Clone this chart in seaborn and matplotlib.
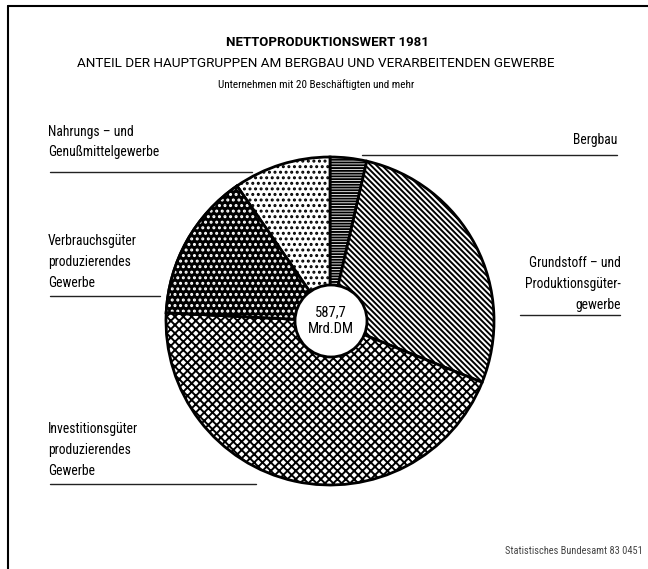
import matplotlib.pyplot as plt
import seaborn as sns
from matplotlib.patches import Wedge, Circle

# Nettoproduktionswert 1981, Anteile in % (aus dem Bild geschaetzt)
segments = ["Bergbau",
            "Grundstoff- und Produktionsgütergewerbe",
            "Investitionsgüter produzierendes Gewerbe",
            "Verbrauchsgüter produzierendes Gewerbe",
            "Nahrungs- und Genußmittelgewerbe"]
shares = [3.6, 27.5, 44.7, 14.6, 9.6]
hatches = ['-' * 6, '\\' * 6, 'x' * 4, '', '...']
faces = ['white', 'white', 'white', 'black', 'white']

title = "NETTOPRODUKTIONSWERT 1981"
subtitle = "ANTEIL DER HAUPTGRUPPEN AM BERGBAU UND VERARBEITENDEN GEWERBE"
note = "Unternehmen mit 20 Beschäftigten und mehr"
total_label = "587,7\nMrd.DM"
source = "Statistisches Bundesamt 83 0451"

sns.set_style("white")
plt.rcParams['font.family'] = ['Roboto Condensed', 'DejaVu Sans']
plt.rcParams['text.color'] = 'black'
plt.rcParams['hatch.linewidth'] = 1.4

W, H = 648, 569
fig = plt.figure(figsize=(6.48, 5.69), dpi=100)
ax = fig.add_axes([0, 0, 1, 1])

def Y(y):
    # pixel row -> data y
    return H - y

cx, cy, r = 330, Y(321), 164
wedges, _ = ax.pie(shares, startangle=90, counterclock=False,
                   center=(cx, cy), radius=r, colors=faces, hatch=hatches,
                   wedgeprops=dict(edgecolor='black', linewidth=2.0))

# white dots on the black wedge (Verbrauchsgueter)
w = wedges[3]
ax.add_patch(Wedge(w.center, w.r, w.theta1, w.theta2, facecolor='none',
                   edgecolor='white', hatch='...', linewidth=0, zorder=3))
ax.add_patch(Wedge(w.center, w.r, w.theta1, w.theta2, facecolor='none',
                   edgecolor='black', linewidth=2.0, zorder=4))

# centre disc
ax.add_patch(Circle((331, Y(321)), 36, facecolor='white', edgecolor='black',
                    linewidth=2.0, zorder=5))
ax.text(331, Y(321), total_label, ha='center', va='center', fontsize=10.5,
        linespacing=1.25, zorder=6)

# titles
ax.text(327, Y(42), title, ha='center', va='center', fontsize=9.5,
        fontweight='bold', family=['Roboto', 'DejaVu Sans'])
ax.text(316, Y(63), subtitle, ha='center', va='center', fontsize=9.7,
        family=['Roboto', 'DejaVu Sans'])
ax.text(316, Y(85), note, ha='center', va='center', fontsize=8.0)

lab = dict(fontsize=9.8, va='center', linespacing=1.6, color='black')
ln = dict(color='#222222', linewidth=1.0)

ax.text(48, Y(142), "Nahrungs – und\nGenußmittelgewerbe", ha='left', **lab)
ax.plot([50, 252], [Y(172), Y(172)], **ln)

ax.text(617, Y(140), "Bergbau", ha='right', **lab)
ax.plot([362, 617], [Y(155), Y(155)], **ln)

ax.text(48, Y(262), "Verbrauchsgüter\nproduzierendes\nGewerbe", ha='left', **lab)
ax.plot([50, 160], [Y(296), Y(296)], **ln)

ax.text(621, Y(284), "Grundstoff – und\nProduktionsgüter-\ngewerbe", ha='right',
        multialignment='right', **lab)
ax.plot([520, 620], [Y(315), Y(315)], **ln)

ax.text(48, Y(450), "Investitionsgüter\nproduzierendes\nGewerbe", ha='left', **lab)
ax.plot([50, 256], [Y(484), Y(484)], **ln)

ax.text(643, Y(551), source, ha='right', va='center', fontsize=7.5,
        color='#444444')

# frame of the original sheet (left and top only)
ax.plot([8, 8], [Y(6), Y(569)], color='black', linewidth=1.5)
ax.plot([8, 648], [Y(6), Y(6)], color='black', linewidth=1.5)

ax.set_xlim(0, W)
ax.set_ylim(0, H)
ax.set_aspect('equal')
ax.axis('off')

fig.savefig("out.png", dpi=100, facecolor='white')
